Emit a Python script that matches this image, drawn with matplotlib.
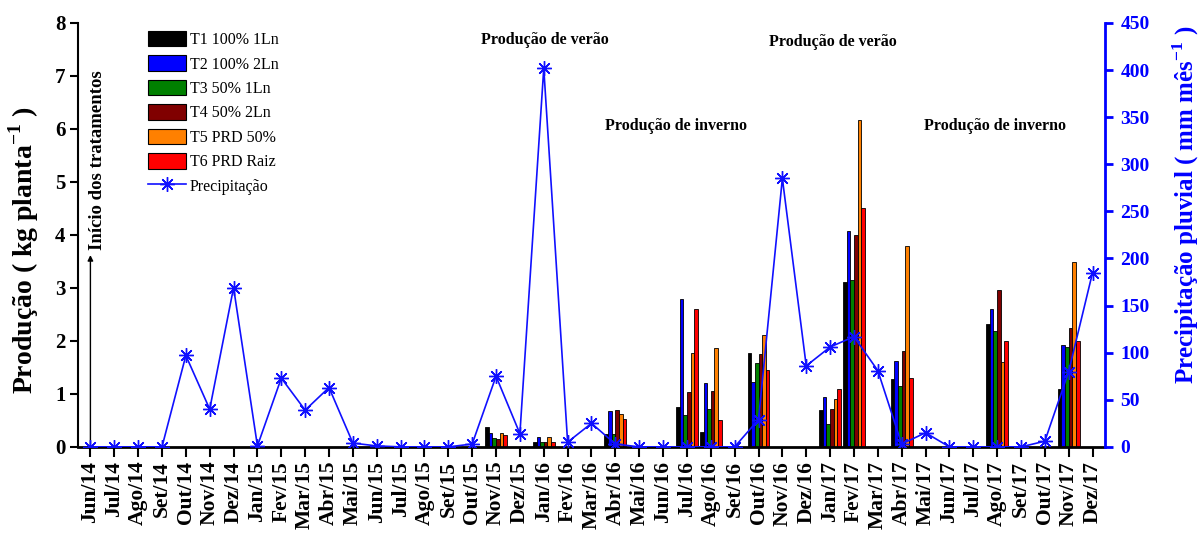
import matplotlib
matplotlib.use("Agg")
import matplotlib.pyplot as plt
from matplotlib.patches import Patch
from matplotlib.lines import Line2D
import numpy as np

# Monthly axis
months = ["Jun/14", "Jul/14", "Ago/14", "Set/14", "Out/14", "Nov/14", "Dez/14",
          "Jan/15", "Fev/15", "Mar/15", "Abr/15", "Mai/15", "Jun/15", "Jul/15",
          "Ago/15", "Set/15", "Out/15", "Nov/15", "Dez/15", "Jan/16", "Fev/16",
          "Mar/16", "Abr/16", "Mai/16", "Jun/16", "Jul/16", "Ago/16", "Set/16",
          "Out/16", "Nov/16", "Dez/16", "Jan/17", "Fev/17", "Mar/17", "Abr/17",
          "Mai/17", "Jun/17", "Jul/17", "Ago/17", "Set/17", "Out/17", "Nov/17",
          "Dez/17"]

# Monthly rainfall (mm)
precipitacao = [0, 0, 0, 0, 97, 40, 169, 1, 73, 39, 63, 4, 1, 0, 0, 0, 3, 75,
                14, 402, 5, 25, 3, 0, 0, 0, 0, 0, 29, 285, 86, 106, 117, 81, 3,
                15, 0, 0, 0, 0, 6, 80, 185]

# Harvest months and yield per treatment (kg/plant)
colheitas = ["Nov/15", "Jan/16", "Abr/16", "Jul/16", "Ago/16", "Out/16",
             "Jan/17", "Fev/17", "Abr/17", "Ago/17", "Nov/17"]
t1 = [0.38, 0.09, 0.25, 0.75, 0.28, 1.77, 0.70, 3.11, 1.28, 2.31, 1.09]
t2 = [0.26, 0.18, 0.67, 2.79, 1.21, 1.22, 0.94, 4.08, 1.62, 2.60, 1.92]
t3 = [0.16, 0.10, 0.25, 0.60, 0.72, 1.58, 0.43, 3.14, 1.14, 2.19, 1.88]
t4 = [0.14, 0.10, 0.69, 1.04, 1.06, 1.75, 0.72, 4.00, 1.81, 2.96, 2.25]
t5 = [0.26, 0.19, 0.62, 1.78, 1.87, 2.11, 0.90, 6.16, 3.80, 1.60, 3.48]
t6 = [0.23, 0.09, 0.52, 2.60, 0.50, 1.45, 1.09, 4.50, 1.30, 2.00, 2.00]

tratamentos = ["T1 100% 1Ln", "T2 100% 2Ln", "T3 50% 1Ln", "T4 50% 2Ln",
               "T5 PRD 50%", "T6 PRD Raiz"]
cores = ["#000000", "#0000ff", "#008000", "#800000", "#ff8000", "#ff0000"]
series = [t1, t2, t3, t4, t5, t6]

serif = ["Liberation Serif", "DejaVu Serif"]
plt.rcParams["font.family"] = serif
plt.rcParams["mathtext.fontset"] = "custom"
plt.rcParams["mathtext.rm"] = "Liberation Serif"
plt.rcParams["mathtext.bf"] = "Liberation Serif:bold"

fig = plt.figure(figsize=(12, 5.41), dpi=100)
ax = fig.add_axes([0.065, 0.174, 0.856, 0.7835])
ax2 = ax.twinx()

x = np.arange(len(months))
pos = [months.index(m) for m in colheitas]
w = 0.152
for k, (vals, cor) in enumerate(zip(series, cores)):
    ax.bar(np.array(pos) + (k - 2.5) * w, vals, width=w, color=cor,
           edgecolor="black", linewidth=0.6, zorder=2)

ax2.plot(x, precipitacao, color="#1010ff", linewidth=1.2,
         marker=(8, 2, 0), markersize=10.5, markeredgewidth=1.0,
         markeredgecolor="#1010ff")

ax.set_xlim(-0.52, 42.53)
ax.set_ylim(0, 8)
ax2.set_ylim(0, 450)

ax.set_xticks(x)
ax.set_xticklabels(months, rotation=90, fontsize=15.5, fontweight="bold")
ax.set_yticks(range(0, 9))
ax.set_yticklabels([str(v) for v in range(0, 9)], fontsize=15,
                   fontweight="bold")
ax2.set_yticks(range(0, 451, 50))
ax2.set_yticklabels([str(v) for v in range(0, 451, 50)], fontsize=14,
                    fontweight="bold", color="#0000ff")

ax.tick_params(axis="x", direction="out", length=7, width=1.5, pad=3)
ax.tick_params(axis="y", direction="out", length=6, width=1.5, pad=3)
ax2.tick_params(axis="y", direction="out", length=6, width=2,
                colors="#0000ff", pad=5)

for a in (ax, ax2):
    a.spines["top"].set_visible(False)
ax.spines["right"].set_visible(False)
ax.spines["left"].set_linewidth(1.5)
ax.spines["bottom"].set_linewidth(2)
ax2.spines["left"].set_visible(False)
ax2.spines["bottom"].set_visible(False)
ax2.spines["right"].set_color("#0000ff")
ax2.spines["right"].set_linewidth(2)

ax.set_ylabel("Produção ( kg planta$^{\\mathbf{-1}}$ )", fontsize=20,
              fontweight="bold")
ax.yaxis.set_label_coords(-0.036, 0.465)
ax2.set_ylabel("Precipitação pluvial ( mm mês$^{\\mathbf{-1}}$ )",
               fontsize=18, fontweight="bold", color="#0000ff")
ax2.yaxis.set_label_coords(1.064, 0.571)

# Treatment start marker
ax.annotate("", xy=(0, 3.62), xytext=(0, 0),
            arrowprops=dict(arrowstyle="-|>", color="black", lw=1.0,
                            mutation_scale=8, shrinkA=0, shrinkB=0))
ax.text(0.3, 3.72, "Início dos tratamentos", rotation=90, ha="center",
        va="bottom", fontsize=13.5, fontweight="bold")

# Season labels
ax.text(19.03, 7.68, "Produção de verão", ha="center", va="center",
        fontsize=11.5, fontweight="bold")
ax.text(31.1, 7.64, "Produção de verão", ha="center", va="center",
        fontsize=11.5, fontweight="bold")
ax.text(24.56, 6.06, "Produção de inverno", ha="center", va="center",
        fontsize=11.5, fontweight="bold")
ax.text(37.93, 6.06, "Produção de inverno", ha="center", va="center",
        fontsize=11.5, fontweight="bold")

handles = [Patch(facecolor=c, edgecolor="black", linewidth=0.8)
           for c in cores]
handles.append(Line2D([], [], color="#1010ff", linewidth=1.2,
                      marker=(8, 2, 0), markersize=10.5,
                      markeredgecolor="#1010ff"))
ax2.legend(handles, tratamentos + ["Precipitação"], loc="upper left",
           bbox_to_anchor=(148 / 1200, 1 - 31 / 541),
           bbox_transform=fig.transFigure, frameon=False, borderpad=0,
           borderaxespad=0, fontsize=11.5, handlelength=2.35,
           handleheight=1.1, labelspacing=0.46, handletextpad=0.25)

fig.savefig("out.png", dpi=100)
